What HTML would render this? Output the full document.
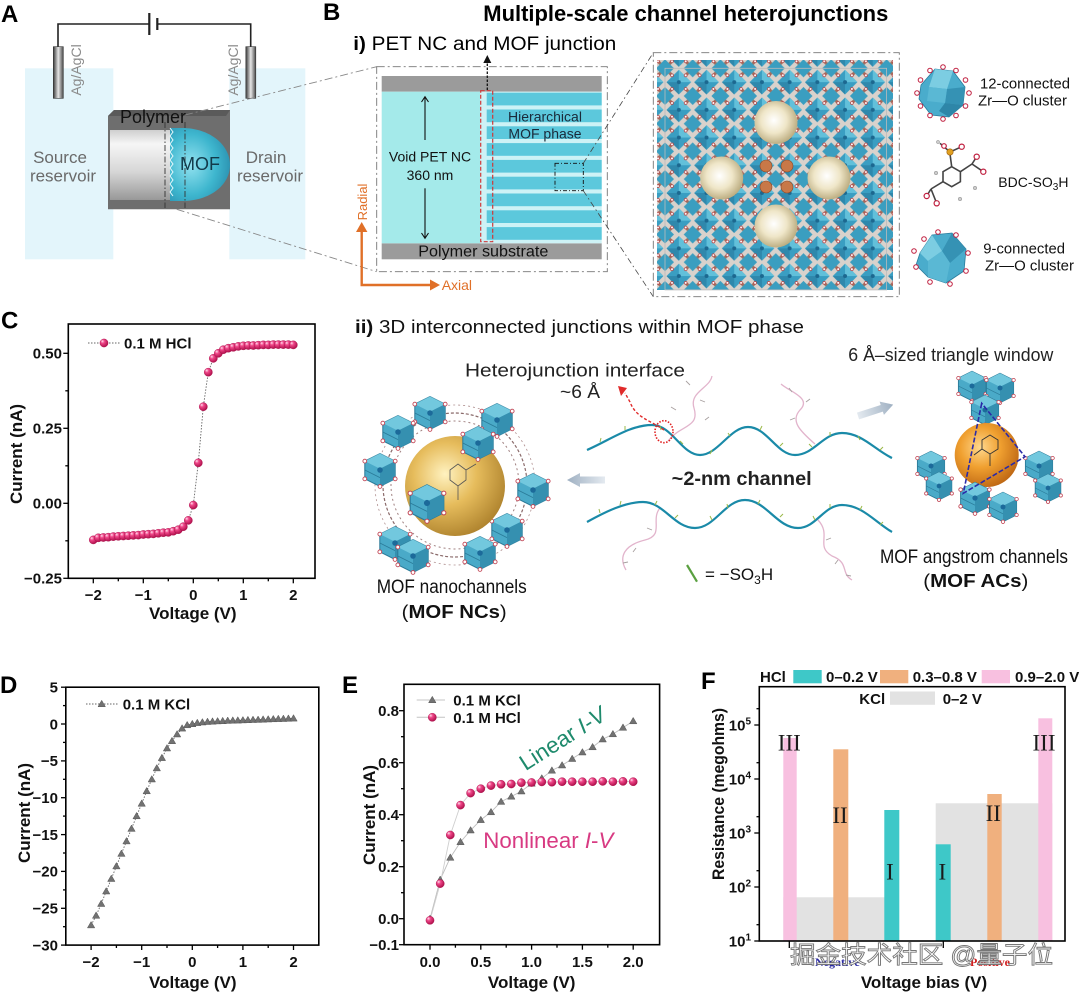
<!DOCTYPE html>
<html><head><meta charset="utf-8">
<style>
html,body{margin:0;padding:0;background:#fff;}
svg{display:block;}
text{font-family:"Liberation Sans",Arial,sans-serif;}
.b{font-weight:bold;}
.n{font-family:"Liberation Sans Narrow","Liberation Sans",sans-serif;}
.tk{font-weight:bold;font-size:15px;fill:#111;}
.ax{font-weight:bold;font-size:17px;fill:#111;}
.pl{font-weight:bold;font-size:24px;fill:#000;}
.serif{font-family:"Liberation Serif","DejaVu Serif",serif;}
.cjk{font-family:"Liberation Sans","Noto Sans CJK SC",sans-serif;}
</style></head><body>
<svg width="1080" height="995" viewBox="0 0 1080 995" xmlns="http://www.w3.org/2000/svg">
<defs>
 <radialGradient id="pinkball" cx="0.38" cy="0.35" r="0.65" fx="0.3" fy="0.28">
  <stop offset="0" stop-color="#ffe2ef"/><stop offset="0.35" stop-color="#f0488a"/><stop offset="1" stop-color="#b0104c"/>
 </radialGradient>
 <radialGradient id="gold" cx="0.4" cy="0.38" r="0.7">
  <stop offset="0" stop-color="#fff2c0"/><stop offset="0.45" stop-color="#e6bc5c"/><stop offset="1" stop-color="#a87c28"/>
 </radialGradient>
 <radialGradient id="beige" cx="0.45" cy="0.45" r="0.6">
  <stop offset="0" stop-color="#ffffff"/><stop offset="0.5" stop-color="#efe6c8"/><stop offset="1" stop-color="#b4a476"/>
 </radialGradient>
 <radialGradient id="orng" cx="0.4" cy="0.38" r="0.7">
  <stop offset="0" stop-color="#ffd88e"/><stop offset="0.45" stop-color="#f0a030"/><stop offset="1" stop-color="#b86010"/>
 </radialGradient>
 <linearGradient id="cyl" x1="0" y1="0" x2="0" y2="1">
  <stop offset="0" stop-color="#cfcfcf"/><stop offset="0.2" stop-color="#f6f6f6"/><stop offset="0.6" stop-color="#d6d6d6"/><stop offset="1" stop-color="#989898"/>
 </linearGradient>
 <radialGradient id="mofg" cx="0.35" cy="0.5" r="0.7">
  <stop offset="0" stop-color="#92e2f0"/><stop offset="0.6" stop-color="#3eb6ce"/><stop offset="1" stop-color="#2a8eae"/>
 </radialGradient>
 <linearGradient id="elec" x1="0" y1="0" x2="1" y2="0">
  <stop offset="0" stop-color="#3a3a3a"/><stop offset="0.5" stop-color="#e6e6e6"/><stop offset="1" stop-color="#484848"/>
 </linearGradient>
 <linearGradient id="garrow" x1="0" y1="0" x2="1" y2="0">
  <stop offset="0" stop-color="#9fb0c2"/><stop offset="1" stop-color="#e4eaf0"/>
 </linearGradient>
 <linearGradient id="garrow2" x1="0" y1="0" x2="1" y2="0">
  <stop offset="0" stop-color="#e4eaf0"/><stop offset="1" stop-color="#9fb0c2"/>
 </linearGradient>
 <pattern id="mofpat" x="665" y="68.3" width="27.7" height="27.7" patternUnits="userSpaceOnUse">
  <rect width="27.7" height="27.7" fill="#d9d2cc"/>
  <line x1="0" y1="0" x2="27.7" y2="27.7" stroke="#a07060" stroke-width="3"/>
  <line x1="27.7" y1="0" x2="0" y2="27.7" stroke="#a07060" stroke-width="3"/>
  <polygon points="13.85,1.5 26.2,13.85 13.85,26.2 1.5,13.85" fill="#3a9ec2"/>
  <polygon points="13.85,1.5 26.2,13.85 13.85,13.85" fill="#62c0da"/>
  <polygon points="1.5,13.85 13.85,13.85 13.85,26.2" fill="#2f88ac"/>
  <polygon points="0,0 9,0 0,9" fill="#3a9ec0"/><polygon points="27.7,0 18.7,0 27.7,9" fill="#3a9ec0"/>
  <polygon points="0,27.7 9,27.7 0,18.7" fill="#3a9ec0"/><polygon points="27.7,27.7 18.7,27.7 27.7,18.7" fill="#3a9ec0"/>
  <circle cx="13.85" cy="13.85" r="2" fill="#1c6890"/>
  <circle cx="7" cy="7" r="1.4" fill="#fff" stroke="#b84040" stroke-width="0.7"/>
  <circle cx="20.7" cy="7" r="1.4" fill="#fff" stroke="#b84040" stroke-width="0.7"/>
  <circle cx="7" cy="20.7" r="1.4" fill="#fff" stroke="#b84040" stroke-width="0.7"/>
  <circle cx="20.7" cy="20.7" r="1.4" fill="#fff" stroke="#b84040" stroke-width="0.7"/>
 </pattern>
 <symbol id="clu" viewBox="0 0 30 30">
  <polygon points="3,8 15,2 27,8 27,22 15,28 3,22" fill="#4aaac8" stroke="#2a7a98" stroke-width="0.8"/>
  <polygon points="15,2 27,8 15,14 3,8" fill="#72c8de"/>
  <polygon points="15,14 27,8 27,22 15,28" fill="#3590b0"/>
  <line x1="3" y1="15" x2="15" y2="21" stroke="#2a7a98" stroke-width="0.6"/>
  <circle cx="15" cy="15" r="2.2" fill="#1c6a9a"/>
  <circle cx="3" cy="8" r="1.5" fill="#fff" stroke="#c04050" stroke-width="0.7"/>
  <circle cx="27" cy="8" r="1.5" fill="#fff" stroke="#c04050" stroke-width="0.7"/>
  <circle cx="15" cy="28" r="1.5" fill="#fff" stroke="#c04050" stroke-width="0.7"/>
  <circle cx="3" cy="22" r="1.5" fill="#fff" stroke="#c04050" stroke-width="0.7"/>
  <circle cx="27" cy="22" r="1.5" fill="#fff" stroke="#c04050" stroke-width="0.7"/>
 </symbol>
 <circle id="ball" cx="0" cy="0" r="4.1" fill="url(#pinkball)" stroke="#a80c48" stroke-width="0.4"/>
 <path id="tri" d="M0,-3.7 L3.7,2.7 L-3.7,2.7Z" fill="#727272" stroke="#555" stroke-width="0.5"/>
</defs>

<rect width="1080" height="995" fill="#fff"/>

<!-- ================= PANEL A ================= -->
<text x="1" y="22" class="pl">A</text>
<rect x="25" y="68.3" width="88.3" height="191" fill="#e3f5fb"/>
<rect x="229.3" y="68.3" width="76" height="191" fill="#e3f5fb"/>
<polyline points="58,47 58,24 149.3,24" fill="none" stroke="#222" stroke-width="1.6"/>
<polyline points="157.3,24 250.7,24 250.7,47" fill="none" stroke="#222" stroke-width="1.6"/>
<line x1="149.3" y1="13" x2="149.3" y2="35" stroke="#222" stroke-width="2.2"/>
<line x1="157.3" y1="18" x2="157.3" y2="30" stroke="#222" stroke-width="2.2"/>
<rect x="53.3" y="46.7" width="10" height="51.6" fill="url(#elec)" stroke="#333" stroke-width="0.6"/>
<rect x="245.8" y="46.7" width="10" height="51.6" fill="url(#elec)" stroke="#333" stroke-width="0.6"/>
<text transform="translate(81,70) rotate(-90)" text-anchor="middle" font-size="14" fill="#8a8a8a">Ag/AgCl</text>
<text transform="translate(238,70) rotate(-90)" text-anchor="middle" font-size="14" fill="#8a8a8a">Ag/AgCl</text>
<text x="60" y="163" text-anchor="middle" font-size="17" fill="#6a6a6a">Source</text>
<text x="63" y="181.5" text-anchor="middle" font-size="17" fill="#6a6a6a">reservoir</text>
<text x="266" y="163" text-anchor="middle" font-size="17" fill="#6a6a6a">Drain</text>
<text x="270" y="181.5" text-anchor="middle" font-size="17" fill="#6a6a6a">reservoir</text>
<polygon points="108,116 114,110 230,110 230,209.3 108,209.3" fill="#6e6e6e"/>
<polygon points="108,116 114,110 230,110 226,116" fill="#5a5a5a"/>
<rect x="110" y="130" width="62" height="70" fill="url(#cyl)"/>
<path d="M170,128 L182,128 C210,128 230,145 230,165 C230,185 210,201 182,201 L170,201 Z" fill="url(#mofg)"/>
<path d="M170,128 l3,4 -3,4 3,4 -3,4 3,4 -3,4 3,4 -3,4 3,4 -3,4 3,4 -3,4 3,4 -3,4 3,4 -3,4 3,4" fill="none" stroke="#e8f8fb" stroke-width="1"/>
<line x1="165" y1="122" x2="165" y2="208" stroke="#333" stroke-width="0.9" stroke-dasharray="6 2 1.5 2"/>
<line x1="185" y1="122" x2="185" y2="208" stroke="#333" stroke-width="0.9" stroke-dasharray="6 2 1.5 2"/>
<text x="120" y="123" font-size="18" fill="#111">Polymer</text>
<text x="180" y="170" font-size="18" fill="#123a4a">MOF</text>
<line x1="185" y1="115" x2="376.7" y2="66.7" stroke="#888" stroke-width="0.9" stroke-dasharray="8 3 2 3"/>
<line x1="176.7" y1="209.3" x2="376.7" y2="271.7" stroke="#888" stroke-width="0.9" stroke-dasharray="8 3 2 3"/>

<!-- ================= PANEL B ================= -->
<text x="323" y="20" class="pl">B</text>
<text x="483.3" y="21" class="b" font-size="22" textLength="405" lengthAdjust="spacingAndGlyphs">Multiple-scale channel heterojunctions</text>
<text x="353.3" y="50" font-size="19" textLength="263" lengthAdjust="spacingAndGlyphs"><tspan class="b">i)</tspan> PET NC and MOF junction</text>
<rect x="376.7" y="66.7" width="230.6" height="205" fill="none" stroke="#777" stroke-width="0.9" stroke-dasharray="8 3 2 3"/>
<rect x="381.7" y="76" width="220" height="15.7" fill="#9b9b9b"/>
<rect x="381.7" y="243.3" width="220" height="16" fill="#9b9b9b"/>
<rect x="381.7" y="91.7" width="98.3" height="151.6" fill="#a4eaea"/>
<rect x="480" y="91.7" width="121.7" height="151.6" fill="#cdf2f6"/>
<g fill="#5cc8dc">
 <rect x="486.7" y="92.7" width="115" height="12.7"/>
 <rect x="486.7" y="109.5" width="115" height="12.7"/>
 <rect x="486.7" y="126.3" width="115" height="12.7"/>
 <rect x="486.7" y="143.1" width="115" height="12.7"/>
 <rect x="486.7" y="159.9" width="115" height="12.7"/>
 <rect x="486.7" y="176.7" width="115" height="12.7"/>
 <rect x="486.7" y="193.5" width="115" height="12.7"/>
 <rect x="486.7" y="210.3" width="115" height="12.7"/>
 <rect x="486.7" y="227.1" width="115" height="12.7"/>
</g>
<rect x="480.7" y="90.7" width="12" height="151" fill="none" stroke="#d03838" stroke-width="1.2" stroke-dasharray="4 2"/>
<line x1="487.3" y1="90" x2="487.3" y2="62" stroke="#111" stroke-width="1.3" stroke-dasharray="2.5 1.5"/>
<polygon points="483.3,63 491.3,63 487.3,55" fill="#111"/>
<line x1="425" y1="97.5" x2="425" y2="140" stroke="#111" stroke-width="1.1"/>
<polyline points="421.5,102 425,96.7 428.5,102" fill="none" stroke="#111" stroke-width="1.1"/>
<line x1="425" y1="188.3" x2="425" y2="237.5" stroke="#111" stroke-width="1.1"/>
<polyline points="421.5,233 425,238.3 428.5,233" fill="none" stroke="#111" stroke-width="1.1"/>
<text x="430" y="161.7" text-anchor="middle" font-size="14" fill="#111">Void PET NC</text>
<text x="430" y="180" text-anchor="middle" font-size="14" fill="#111">360 nm</text>
<text x="545" y="121.7" text-anchor="middle" font-size="14" fill="#1a2a3a">Hierarchical</text>
<text x="545" y="138.5" text-anchor="middle" font-size="14" fill="#1a2a3a">MOF phase</text>
<rect x="555" y="163.3" width="28.3" height="27.4" fill="none" stroke="#111" stroke-width="0.9" stroke-dasharray="4 2 1 2"/>
<line x1="583.3" y1="163.3" x2="653.3" y2="52.7" stroke="#444" stroke-width="0.8" stroke-dasharray="6 3 1.5 3"/>
<line x1="583.3" y1="190.7" x2="653.3" y2="296.7" stroke="#444" stroke-width="0.8" stroke-dasharray="6 3 1.5 3"/>
<text x="483.3" y="256.5" text-anchor="middle" font-size="16" fill="#111" textLength="130" lengthAdjust="spacingAndGlyphs">Polymer substrate</text>
<polyline points="361.7,230 361.7,285 432,285" fill="none" stroke="#e07028" stroke-width="2.4"/>
<polygon points="356,232 367.4,232 361.7,222" fill="#e07028"/>
<polygon points="430,279.5 430,290.5 440,285" fill="#e07028"/>
<text transform="translate(367,202) rotate(-90)" text-anchor="middle" font-size="13" fill="#e07028">Radial</text>
<text x="441.7" y="290" font-size="14" fill="#e07028">Axial</text>

<!-- big MOF lattice -->
<rect x="653.3" y="52.7" width="246" height="244" fill="none" stroke="#777" stroke-width="0.9" stroke-dasharray="8 3 2 3"/>
<rect x="657" y="60" width="236" height="230" fill="url(#mofpat)"/>
<rect x="665" y="68.3" width="221.6" height="221.6" fill="none" stroke="#bbb" stroke-width="0.8"/>
<g fill="#c87848" stroke="#8a4a2a" stroke-width="0.6">
 <circle cx="766" cy="166" r="6"/><circle cx="787" cy="166" r="6"/><circle cx="766" cy="187" r="6"/><circle cx="787" cy="187" r="6"/>
</g>
<circle cx="776" cy="122.5" r="21.5" fill="url(#beige)"/>
<circle cx="721.7" cy="178" r="21.5" fill="url(#beige)"/>
<circle cx="829" cy="178" r="21.5" fill="url(#beige)"/>
<circle cx="776" cy="226" r="21.5" fill="url(#beige)"/>

<!-- 12-connected -->
<g transform="translate(943,93)">
 <polygon points="-22,-8 -8,-24 10,-22 22,-6 20,12 6,24 -12,22 -24,6" fill="#4aaccc" stroke="#2a7c9c" stroke-width="0.8"/>
 <polygon points="-8,-24 10,-22 4,-4 -14,-6" fill="#7ccde2"/>
 <polygon points="4,-4 22,-6 20,12 2,10" fill="#3592b4"/>
 <polygon points="-14,-6 4,-4 2,10 -16,8" fill="#5ab8d4"/>
 <polygon points="2,10 20,12 6,24 -4,18" fill="#2e86a8"/>
 <g fill="#fff" stroke="#c02040" stroke-width="1">
  <circle cx="26" cy="0" r="2.3"/><circle cx="22.5" cy="13" r="2.3"/><circle cx="13" cy="22.5" r="2.3"/><circle cx="0" cy="26" r="2.3"/>
  <circle cx="-13" cy="22.5" r="2.3"/><circle cx="-22.5" cy="13" r="2.3"/><circle cx="-26" cy="0" r="2.3"/><circle cx="-22.5" cy="-13" r="2.3"/>
  <circle cx="-13" cy="-22.5" r="2.3"/><circle cx="0" cy="-26" r="2.3"/><circle cx="13" cy="-22.5" r="2.3"/><circle cx="22.5" cy="-13" r="2.3"/>
 </g>
</g>
<text x="980" y="88.5" font-size="14.5" fill="#111" textLength="90" lengthAdjust="spacingAndGlyphs">12-connected</text>
<text x="978" y="105.5" font-size="14.5" fill="#111" textLength="89" lengthAdjust="spacingAndGlyphs">Zr—O cluster</text>
<!-- BDC-SO3H -->
<g stroke="#444" stroke-width="1.6" fill="none">
 <polygon points="951.7,166.7 960.4,171.7 960.4,181.7 951.7,186.7 943,181.7 943,171.7"/>
 <line x1="951.7" y1="166.7" x2="950" y2="154"/>
 <line x1="960.4" y1="171.7" x2="972" y2="164"/>
 <line x1="972" y1="164" x2="976.7" y2="156.7"/><line x1="972" y1="164" x2="983.3" y2="171.7"/>
 <line x1="943" y1="181.7" x2="931" y2="189"/>
 <line x1="931" y1="189" x2="926.7" y2="196"/><line x1="931" y1="189" x2="936.7" y2="203.3"/>
 <line x1="950" y1="152" x2="961.7" y2="146.7"/><line x1="950" y1="152" x2="940" y2="143.3"/>
</g>
<g stroke="#c02040" stroke-width="1.2" fill="#fff">
 <circle cx="976.7" cy="156.7" r="2.6"/><circle cx="983.3" cy="171.7" r="2.6"/><circle cx="926.7" cy="196" r="2.6"/><circle cx="936.7" cy="203.3" r="2.6"/><circle cx="961.7" cy="146.7" r="2.6"/><circle cx="944" cy="146" r="2.3"/>
</g>
<circle cx="950" cy="152" r="3.2" fill="#e0a020" stroke="#a06010" stroke-width="0.6"/>
<g fill="#ccc" stroke="#888" stroke-width="0.5"><circle cx="975" cy="188" r="1.8"/><circle cx="960" cy="199" r="1.8"/><circle cx="936" cy="173" r="1.8"/><circle cx="938" cy="142" r="1.6"/></g>
<text x="998.3" y="187" font-size="14" fill="#111">BDC-SO<tspan font-size="10" dy="3">3</tspan><tspan dy="-3">H</tspan></text>
<!-- 9-connected -->
<g transform="translate(942,257)">
 <polygon points="-22,-4 -10,-22 10,-24 24,-8 22,14 4,26 -14,20 -26,8" fill="#4aaccc" stroke="#2a7c9c" stroke-width="0.8"/>
 <polygon points="-22,-4 -10,-22 0,-6 -14,4" fill="#7ccde2"/>
 <polygon points="0,-6 10,-24 24,-8 8,6" fill="#3592b4"/>
 <polygon points="-14,4 0,-6 8,6 4,26 -14,20" fill="#5ab8d4"/>
 <g fill="#fff" stroke="#c02040" stroke-width="1">
  <circle cx="-18" cy="-18" r="2.3"/><circle cx="-4" cy="-25" r="2.3"/><circle cx="14" cy="-22" r="2.3"/><circle cx="26" cy="-4" r="2.3"/>
  <circle cx="24" cy="14" r="2.3"/><circle cx="8" cy="27" r="2.3"/><circle cx="-12" cy="25" r="2.3"/><circle cx="-26" cy="10" r="2.3"/><circle cx="-28" cy="-6" r="2.3"/>
 </g>
</g>
<text x="983.3" y="253.5" font-size="14.5" fill="#111" textLength="81.7" lengthAdjust="spacingAndGlyphs">9-connected</text>
<text x="985" y="270.5" font-size="14.5" fill="#111" textLength="89" lengthAdjust="spacingAndGlyphs">Zr—O cluster</text>

<!-- ================= PANEL ii ================= -->
<text x="355" y="333" class="n" font-size="18" fill="#111" textLength="449" lengthAdjust="spacingAndGlyphs"><tspan font-weight="bold">ii)</tspan>  3D interconnected junctions within MOF phase</text>
<text x="465" y="376.5" class="n" font-size="18.5" fill="#222" textLength="220" lengthAdjust="spacingAndGlyphs">Heterojunction interface</text>
<text x="560" y="398" class="n" font-size="18" fill="#222" textLength="40" lengthAdjust="spacingAndGlyphs">~6 Å</text>
<text x="848.3" y="361" class="n" font-size="18.5" fill="#222" textLength="205" lengthAdjust="spacingAndGlyphs">6 Å–sized triangle window</text>

<!-- MOF NC -->
<circle cx="455" cy="485" r="72" fill="none" stroke="#8a6a6a" stroke-width="1.2" stroke-dasharray="3 2"/>
<circle cx="455" cy="485" r="64" fill="none" stroke="#a08080" stroke-width="1" stroke-dasharray="2 3"/>
<circle cx="455" cy="485" r="80" fill="none" stroke="#b09090" stroke-width="0.8" stroke-dasharray="2 3"/>
<use href="#clu" x="411" y="394" width="38" height="38"/>
<use href="#clu" x="379" y="413" width="38" height="38"/>
<use href="#clu" x="361" y="451" width="38" height="38"/>
<use href="#clu" x="376" y="524" width="38" height="38"/>
<use href="#clu" x="514" y="471" width="38" height="38"/>
<use href="#clu" x="488" y="511" width="38" height="38"/>
<use href="#clu" x="461" y="534" width="38" height="38"/>
<use href="#clu" x="394" y="537" width="38" height="38"/>
<use href="#clu" x="478" y="401" width="38" height="38"/>
<circle cx="455" cy="486" r="50" fill="url(#gold)"/>
<path d="M450,470 l8,-6 8,6 0,10 -8,6 -8,-6z M458,486 l0,14 M466,470 l10,-6" fill="none" stroke="#555" stroke-width="0.8"/>
<use href="#clu" x="406" y="482" width="42" height="42"/>
<use href="#clu" x="459" y="424" width="38" height="38"/>
<text x="376.7" y="593" class="n" font-size="19" fill="#111" textLength="150" lengthAdjust="spacingAndGlyphs">MOF nanochannels</text>
<text x="401.7" y="618" font-size="18" fill="#111" textLength="105" lengthAdjust="spacingAndGlyphs">(<tspan font-weight="bold">MOF NCs</tspan>)</text>

<!-- gray arrows -->
<polygon points="567,480 580,473 580,476.5 605,476.5 605,483.5 580,483.5 580,487" fill="url(#garrow)"/>
<g transform="translate(858,416) rotate(-18)">
 <polygon points="0,-3.5 25,-3.5 25,-7 37,0 25,7 25,3.5 0,3.5" fill="url(#garrow2)"/>
</g>

<!-- pink chains -->
<g fill="none" stroke="#e2b4cc" stroke-width="1.3">
 <path d="M668,441 C680,425 700,428 694,408 C689,392 710,388 712,376"/>
 <path d="M815,444 C800,431 790,421 800,410 C812,398 790,392 781,384"/>
 <path d="M660,508 C650,520 665,535 645,540 C625,545 618,556 626,570"/>
 <path d="M818,520 C832,535 815,546 832,556 C850,563 840,573 852,580"/>
</g>
<g fill="none" stroke="#a8a0a0" stroke-width="0.9">
 <path d="M676,410 l-5,-3 M700,400 l5,2 M690,385 l-4,-4 M795,418 l-5,2 M806,402 l4,-3 M792,392 l-3,-4 M652,530 l-5,-2 M636,548 l-3,4 M628,562 l-5,1 M826,540 l5,-2 M838,560 l-3,4 M846,575 l5,1 M705,420 l4,-3"/>
</g>
<!-- waves -->
<path d="M587,450 C610,440 630,425 652,425 C672,425 682,455 700,455 C718,455 730,427 748,427 C767,427 777,455 795,455 C814,455 823,433 842,433 C862,433 875,450 892,458" fill="none" stroke="#1a8aa8" stroke-width="2.2"/>
<path d="M587,522 C605,512 625,502 643,502 C664,502 674,528 695,528 C715,528 725,500 745,500 C766,500 777,528 798,528 C816,528 824,505 842,505 C862,505 875,522 892,532" fill="none" stroke="#1a8aa8" stroke-width="2.2"/>
<g stroke="#9ab848" stroke-width="1">
 <path d="M600,442 l1,-4 M625,430 l0,-4 M660,426 l1,4 M680,441 l3,3 M712,450 l-2,4 M730,436 l-2,-3 M760,430 l2,-4 M780,446 l3,-3 M812,447 l-3,-3 M830,436 l0,-4 M858,436 l2,4 M880,450 l3,-3"/>
 <path d="M600,513 l-1,-4 M620,505 l1,-4 M655,505 l2,-4 M675,518 l3,-3 M712,520 l-2,-4 M728,508 l-1,-4 M758,504 l2,-4 M780,517 l3,-3 M815,520 l-2,-4 M830,508 l0,-4 M860,510 l2,-4 M880,525 l3,-3"/>
</g>
<!-- red dashed arrow and dotted ellipse -->
<path d="M664,430 C650,420 636,418 630,402 L625,393" fill="none" stroke="#e02a2a" stroke-width="1.4" stroke-dasharray="3 2"/>
<polygon points="618,386 627,388 621,396" fill="#e02a2a"/>
<ellipse cx="664" cy="431.7" rx="9" ry="11" fill="none" stroke="#e02020" stroke-width="1.6" stroke-dasharray="1.5 1.5"/>
<text x="671.7" y="485" class="b" font-size="19" fill="#222" textLength="140" lengthAdjust="spacingAndGlyphs">~2-nm channel</text>
<line x1="687" y1="565" x2="697" y2="581.7" stroke="#5aa040" stroke-width="2.2"/>
<text x="705" y="580" font-size="17" fill="#111">= <tspan>−SO</tspan><tspan font-size="12" dy="4">3</tspan><tspan dy="-4">H</tspan></text>

<!-- MOF AC -->
<use href="#clu" x="955" y="369" width="34" height="34"/>
<use href="#clu" x="983" y="371" width="34" height="34"/>
<use href="#clu" x="968" y="393" width="34" height="34"/>
<use href="#clu" x="914" y="449" width="34" height="34"/>
<use href="#clu" x="923" y="470" width="32" height="32"/>
<use href="#clu" x="1022" y="449" width="34" height="34"/>
<use href="#clu" x="1032" y="472" width="32" height="32"/>
<circle cx="986.7" cy="455" r="32" fill="url(#orng)"/>
<path d="M982,440 l8,-5 8,5 0,9 -8,5 -8,-5z M990,454 l0,12 M982,449 l-8,6" fill="none" stroke="#333" stroke-width="0.9"/>
<use href="#clu" x="957" y="480" width="36" height="36"/>
<use href="#clu" x="986" y="490" width="34" height="34"/>
<polygon points="981.7,403.3 963.3,493.3 1025,456.7" fill="none" stroke="#2a2aa8" stroke-width="1.6" stroke-dasharray="5 2"/>
<text x="880" y="563" class="n" font-size="19" fill="#111" textLength="188" lengthAdjust="spacingAndGlyphs">MOF angstrom channels</text>
<text x="923.3" y="587" font-size="18" fill="#111" textLength="105" lengthAdjust="spacingAndGlyphs">(<tspan font-weight="bold">MOF ACs</tspan>)</text>

<!-- ================= PANEL C ================= -->
<text x="1" y="328.5" class="pl" font-size="22">C</text>
<g stroke="#000" stroke-width="1.3">
 <line x1="63.3" y1="353.3" x2="68.3" y2="353.3"/><line x1="63.3" y1="428.3" x2="68.3" y2="428.3"/><line x1="63.3" y1="503.3" x2="68.3" y2="503.3"/><line x1="63.3" y1="578.3" x2="68.3" y2="578.3"/>
 <line x1="65.3" y1="390.8" x2="68.3" y2="390.8"/><line x1="65.3" y1="465.8" x2="68.3" y2="465.8"/><line x1="65.3" y1="540.8" x2="68.3" y2="540.8"/>
 <line x1="93.3" y1="578.3" x2="93.3" y2="583.3"/><line x1="143.3" y1="578.3" x2="143.3" y2="583.3"/><line x1="193.3" y1="578.3" x2="193.3" y2="583.3"/><line x1="243.3" y1="578.3" x2="243.3" y2="583.3"/><line x1="293.3" y1="578.3" x2="293.3" y2="583.3"/>
 <line x1="118.3" y1="578.3" x2="118.3" y2="581.3"/><line x1="168.3" y1="578.3" x2="168.3" y2="581.3"/><line x1="218.3" y1="578.3" x2="218.3" y2="581.3"/><line x1="268.3" y1="578.3" x2="268.3" y2="581.3"/>
</g>
<rect x="68.3" y="324" width="246.7" height="254.3" fill="none" stroke="#000" stroke-width="1.6"/>
<g class="tk" text-anchor="end">
 <text x="62" y="358.5">0.50</text><text x="62" y="433.5">0.25</text><text x="62" y="508.5">0.00</text><text x="62" y="583.5">−0.25</text>
</g>
<g class="tk" text-anchor="middle">
 <text x="93.3" y="600">−2</text><text x="143.3" y="600">−1</text><text x="193.3" y="600">0</text><text x="243.3" y="600">1</text><text x="293.3" y="600">2</text>
</g>
<text x="192.8" y="619" text-anchor="middle" class="ax">Voltage (V)</text>
<text transform="translate(22,454) rotate(-90)" text-anchor="middle" class="ax" font-size="16.5">Current (nA)</text>
<line x1="88" y1="343" x2="120" y2="343" stroke="#666" stroke-width="0.9" stroke-dasharray="1.5 1.5"/>
<use href="#ball" x="104" y="343"/>
<text x="124" y="348.5" class="tk">0.1 M HCl</text>
<polyline points="93.3,539.9 98.3,537.8 103.3,537.5 108.3,537.2 113.3,536.6 118.3,536.3 123.3,536.0 128.3,535.7 133.3,535.4 138.3,535.1 143.3,534.5 148.3,534.2 153.3,533.9 158.3,533.3 163.3,532.7 168.3,532.4 173.3,531.2 178.3,529.7 183.3,526.7 188.3,520.4 193.3,505.1 198.3,462.8 203.3,406.7 208.3,372.2 213.3,358.4 218.3,353.3 223.3,349.7 228.3,348.2 233.3,347.3 238.3,346.4 243.3,345.8 248.3,345.5 253.3,345.5 258.3,345.2 263.3,344.9 268.3,344.9 273.3,344.6 278.3,344.6 283.3,344.6 288.3,344.6 293.3,344.9" fill="none" stroke="#666" stroke-width="0.9" stroke-dasharray="1.5 1.5"/>
<g>
<use href="#ball" x="93.3" y="539.9"/><use href="#ball" x="98.3" y="537.8"/><use href="#ball" x="103.3" y="537.5"/><use href="#ball" x="108.3" y="537.2"/><use href="#ball" x="113.3" y="536.6"/><use href="#ball" x="118.3" y="536.3"/><use href="#ball" x="123.3" y="536.0"/><use href="#ball" x="128.3" y="535.7"/><use href="#ball" x="133.3" y="535.4"/><use href="#ball" x="138.3" y="535.1"/><use href="#ball" x="143.3" y="534.5"/><use href="#ball" x="148.3" y="534.2"/><use href="#ball" x="153.3" y="533.9"/><use href="#ball" x="158.3" y="533.3"/><use href="#ball" x="163.3" y="532.7"/><use href="#ball" x="168.3" y="532.4"/><use href="#ball" x="173.3" y="531.2"/><use href="#ball" x="178.3" y="529.7"/><use href="#ball" x="183.3" y="526.7"/><use href="#ball" x="188.3" y="520.4"/><use href="#ball" x="193.3" y="505.1"/><use href="#ball" x="198.3" y="462.8"/><use href="#ball" x="203.3" y="406.7"/><use href="#ball" x="208.3" y="372.2"/><use href="#ball" x="213.3" y="358.4"/><use href="#ball" x="218.3" y="353.3"/><use href="#ball" x="223.3" y="349.7"/><use href="#ball" x="228.3" y="348.2"/><use href="#ball" x="233.3" y="347.3"/><use href="#ball" x="238.3" y="346.4"/><use href="#ball" x="243.3" y="345.8"/><use href="#ball" x="248.3" y="345.5"/><use href="#ball" x="253.3" y="345.5"/><use href="#ball" x="258.3" y="345.2"/><use href="#ball" x="263.3" y="344.9"/><use href="#ball" x="268.3" y="344.9"/><use href="#ball" x="273.3" y="344.6"/><use href="#ball" x="278.3" y="344.6"/><use href="#ball" x="283.3" y="344.6"/><use href="#ball" x="288.3" y="344.6"/><use href="#ball" x="293.3" y="344.9"/>
</g>

<!-- ================= PANEL D ================= -->
<text x="0" y="693" class="pl">D</text>
<g stroke="#000" stroke-width="1.3">
 <line x1="61" y1="687.2" x2="65.8" y2="687.2"/><line x1="61" y1="724" x2="65.8" y2="724"/><line x1="61" y1="760.9" x2="65.8" y2="760.9"/><line x1="61" y1="797.7" x2="65.8" y2="797.7"/><line x1="61" y1="834.6" x2="65.8" y2="834.6"/><line x1="61" y1="871.4" x2="65.8" y2="871.4"/><line x1="61" y1="908.3" x2="65.8" y2="908.3"/><line x1="61" y1="945.1" x2="65.8" y2="945.1"/>
 <line x1="63" y1="705.6" x2="65.8" y2="705.6"/><line x1="63" y1="742.4" x2="65.8" y2="742.4"/><line x1="63" y1="779.3" x2="65.8" y2="779.3"/><line x1="63" y1="816.1" x2="65.8" y2="816.1"/><line x1="63" y1="853" x2="65.8" y2="853"/><line x1="63" y1="889.9" x2="65.8" y2="889.9"/><line x1="63" y1="926.7" x2="65.8" y2="926.7"/>
 <line x1="91.1" y1="945.1" x2="91.1" y2="950"/><line x1="141.7" y1="945.1" x2="141.7" y2="950"/><line x1="192.3" y1="945.1" x2="192.3" y2="950"/><line x1="242.9" y1="945.1" x2="242.9" y2="950"/><line x1="293.5" y1="945.1" x2="293.5" y2="950"/>
 <line x1="116.4" y1="945.1" x2="116.4" y2="948"/><line x1="167" y1="945.1" x2="167" y2="948"/><line x1="217.6" y1="945.1" x2="217.6" y2="948"/><line x1="268.2" y1="945.1" x2="268.2" y2="948"/>
</g>
<rect x="65.8" y="687.2" width="253" height="257.9" fill="none" stroke="#000" stroke-width="1.6"/>
<g class="tk" text-anchor="end">
 <text x="58" y="692.5">5</text><text x="58" y="729.3">0</text><text x="58" y="766.2">−5</text><text x="58" y="803">−10</text><text x="58" y="839.9">−15</text><text x="58" y="876.7">−20</text><text x="58" y="913.6">−25</text><text x="58" y="950.4">−30</text>
</g>
<g class="tk" text-anchor="middle">
 <text x="91.1" y="967">−2</text><text x="141.7" y="967">−1</text><text x="192.3" y="967">0</text><text x="242.9" y="967">1</text><text x="293.5" y="967">2</text>
</g>
<text x="192.8" y="988" text-anchor="middle" class="ax">Voltage (V)</text>
<text transform="translate(30,813) rotate(-90)" text-anchor="middle" class="ax" font-size="16.5">Current (nA)</text>
<line x1="86" y1="704" x2="118" y2="704" stroke="#666" stroke-width="0.9" stroke-dasharray="1.5 1.5"/>
<use href="#tri" x="101.7" y="704"/>
<text x="122.7" y="709.5" class="tk">0.1 M KCl</text>
<polyline points="91.1,925.2 96.1,915.6 101.2,903.8 106.2,891.3 111.3,878.8 116.4,866.2 121.4,853.7 126.5,841.2 131.5,828.7 136.6,816.1 141.7,803.6 146.7,791.1 151.8,779.3 156.8,768.2 161.9,757.9 167.0,748.3 172.0,741.0 177.1,734.3 182.1,728.4 187.2,725.1 192.3,724.0 197.3,722.9 202.4,722.3 207.5,721.8 212.5,721.5 217.6,721.2 222.7,721.0 227.7,720.7 232.8,720.5 237.8,720.4 242.9,720.2 247.9,720.0 253.0,719.8 258.1,719.7 263.1,719.5 268.2,719.3 273.3,719.1 278.3,718.9 283.4,718.8 288.4,718.6 293.5,718.4" fill="none" stroke="#666" stroke-width="0.9" stroke-dasharray="1.5 1.5"/>
<g>
<use href="#tri" x="91.1" y="925.2"/><use href="#tri" x="96.1" y="915.6"/><use href="#tri" x="101.2" y="903.8"/><use href="#tri" x="106.2" y="891.3"/><use href="#tri" x="111.3" y="878.8"/><use href="#tri" x="116.4" y="866.2"/><use href="#tri" x="121.4" y="853.7"/><use href="#tri" x="126.5" y="841.2"/><use href="#tri" x="131.5" y="828.7"/><use href="#tri" x="136.6" y="816.1"/><use href="#tri" x="141.7" y="803.6"/><use href="#tri" x="146.7" y="791.1"/><use href="#tri" x="151.8" y="779.3"/><use href="#tri" x="156.8" y="768.2"/><use href="#tri" x="161.9" y="757.9"/><use href="#tri" x="167.0" y="748.3"/><use href="#tri" x="172.0" y="741.0"/><use href="#tri" x="177.1" y="734.3"/><use href="#tri" x="182.1" y="728.4"/><use href="#tri" x="187.2" y="725.1"/><use href="#tri" x="192.3" y="724.0"/><use href="#tri" x="197.3" y="722.9"/><use href="#tri" x="202.4" y="722.3"/><use href="#tri" x="207.5" y="721.8"/><use href="#tri" x="212.5" y="721.5"/><use href="#tri" x="217.6" y="721.2"/><use href="#tri" x="222.7" y="721.0"/><use href="#tri" x="227.7" y="720.7"/><use href="#tri" x="232.8" y="720.5"/><use href="#tri" x="237.8" y="720.4"/><use href="#tri" x="242.9" y="720.2"/><use href="#tri" x="247.9" y="720.0"/><use href="#tri" x="253.0" y="719.8"/><use href="#tri" x="258.1" y="719.7"/><use href="#tri" x="263.1" y="719.5"/><use href="#tri" x="268.2" y="719.3"/><use href="#tri" x="273.3" y="719.1"/><use href="#tri" x="278.3" y="718.9"/><use href="#tri" x="283.4" y="718.8"/><use href="#tri" x="288.4" y="718.6"/><use href="#tri" x="293.5" y="718.4"/>
</g>

<!-- ================= PANEL E ================= -->
<text x="342" y="693" class="pl">E</text>
<g stroke="#000" stroke-width="1.3">
 <line x1="399" y1="710.7" x2="404" y2="710.7"/><line x1="399" y1="762.7" x2="404" y2="762.7"/><line x1="399" y1="814.7" x2="404" y2="814.7"/><line x1="399" y1="866.7" x2="404" y2="866.7"/><line x1="399" y1="918.7" x2="404" y2="918.7"/><line x1="399" y1="944.7" x2="404" y2="944.7"/>
 <line x1="401" y1="736.7" x2="404" y2="736.7"/><line x1="401" y1="788.7" x2="404" y2="788.7"/><line x1="401" y1="840.7" x2="404" y2="840.7"/><line x1="401" y1="892.7" x2="404" y2="892.7"/>
 <line x1="430" y1="944.7" x2="430" y2="949.7"/><line x1="480.8" y1="944.7" x2="480.8" y2="949.7"/><line x1="531.6" y1="944.7" x2="531.6" y2="949.7"/><line x1="582.4" y1="944.7" x2="582.4" y2="949.7"/><line x1="633.2" y1="944.7" x2="633.2" y2="949.7"/>
 <line x1="455.4" y1="944.7" x2="455.4" y2="947.7"/><line x1="506.2" y1="944.7" x2="506.2" y2="947.7"/><line x1="557" y1="944.7" x2="557" y2="947.7"/><line x1="607.8" y1="944.7" x2="607.8" y2="947.7"/>
</g>
<rect x="404" y="684.3" width="255.6" height="260.4" fill="none" stroke="#000" stroke-width="1.6"/>
<g class="tk" text-anchor="end">
 <text x="399" y="716">0.8</text><text x="399" y="768">0.6</text><text x="399" y="820">0.4</text><text x="399" y="872">0.2</text><text x="399" y="924">0.0</text><text x="399" y="950">−0.1</text>
</g>
<g class="tk" text-anchor="middle">
 <text x="430" y="967">0.0</text><text x="480.8" y="967">0.5</text><text x="531.6" y="967">1.0</text><text x="582.4" y="967">1.5</text><text x="633.2" y="967">2.0</text>
</g>
<text x="531.7" y="988" text-anchor="middle" class="ax">Voltage (V)</text>
<text transform="translate(375,815) rotate(-90)" text-anchor="middle" class="ax" font-size="16.5">Current (nA)</text>
<line x1="416.7" y1="700" x2="445" y2="700" stroke="#c4c4c4" stroke-width="1"/>
<use href="#tri" x="432.3" y="700"/>
<text x="453.3" y="705.5" class="tk">0.1 M KCl</text>
<line x1="416.7" y1="717.3" x2="445" y2="717.3" stroke="#c4c4c4" stroke-width="1"/>
<use href="#ball" x="432.3" y="717.3"/>
<text x="453.3" y="722.8" class="tk">0.1 M HCl</text>
<text transform="translate(566.7,745) rotate(-32.6)" text-anchor="middle" font-size="22.5" fill="#1e8a6c">Linear <tspan font-style="italic">I</tspan>-<tspan font-style="italic">V</tspan></text>
<text x="483.3" y="848" font-size="22.3" fill="#d83a82" textLength="130" lengthAdjust="spacingAndGlyphs">Nonlinear <tspan font-style="italic">I</tspan>-<tspan font-style="italic">V</tspan></text>
<polyline points="430,918.7 440.2,879.7 450.3,857.6 460.5,842.0 470.6,830.3 480.8,819.9 491.0,812.1 501.1,801.7 511.3,796.5 521.4,791.3 531.6,783.5 541.8,778.3 551.9,770.5 562.1,765.3 572.2,758.8 582.4,752.3 592.6,747.1 602.7,739.3 612.9,734.1 623.0,727.6 633.2,721.1" fill="none" stroke="#bdbdbd" stroke-width="0.9"/>
<polyline points="430,920.3 440.2,883.6 450.3,835.0 460.5,805.1 470.6,793.1 480.8,788.7 491.0,785.6 501.1,784.3 511.3,784.0 521.4,782.7 531.6,782.5 541.8,781.9 551.9,782.2 562.1,781.7 572.2,781.7 582.4,781.7 592.6,781.7 602.7,781.4 612.9,781.7 623.0,781.4 633.2,781.7" fill="none" stroke="#cfcfcf" stroke-width="0.9"/>
<g>
<use href="#tri" x="430" y="918.7"/><use href="#tri" x="440.2" y="879.7"/><use href="#tri" x="450.3" y="857.6"/><use href="#tri" x="460.5" y="842.0"/><use href="#tri" x="470.6" y="830.3"/><use href="#tri" x="480.8" y="819.9"/><use href="#tri" x="491.0" y="812.1"/><use href="#tri" x="501.1" y="801.7"/><use href="#tri" x="511.3" y="796.5"/><use href="#tri" x="521.4" y="791.3"/><use href="#tri" x="531.6" y="783.5"/><use href="#tri" x="541.8" y="778.3"/><use href="#tri" x="551.9" y="770.5"/><use href="#tri" x="562.1" y="765.3"/><use href="#tri" x="572.2" y="758.8"/><use href="#tri" x="582.4" y="752.3"/><use href="#tri" x="592.6" y="747.1"/><use href="#tri" x="602.7" y="739.3"/><use href="#tri" x="612.9" y="734.1"/><use href="#tri" x="623.0" y="727.6"/><use href="#tri" x="633.2" y="721.1"/>
</g>
<g>
<use href="#ball" x="430" y="920.3"/><use href="#ball" x="440.2" y="883.6"/><use href="#ball" x="450.3" y="835.0"/><use href="#ball" x="460.5" y="805.1"/><use href="#ball" x="470.6" y="793.1"/><use href="#ball" x="480.8" y="788.7"/><use href="#ball" x="491.0" y="785.6"/><use href="#ball" x="501.1" y="784.3"/><use href="#ball" x="511.3" y="784.0"/><use href="#ball" x="521.4" y="782.7"/><use href="#ball" x="531.6" y="782.5"/><use href="#ball" x="541.8" y="781.9"/><use href="#ball" x="551.9" y="782.2"/><use href="#ball" x="562.1" y="781.7"/><use href="#ball" x="572.2" y="781.7"/><use href="#ball" x="582.4" y="781.7"/><use href="#ball" x="592.6" y="781.7"/><use href="#ball" x="602.7" y="781.4"/><use href="#ball" x="612.9" y="781.7"/><use href="#ball" x="623.0" y="781.4"/><use href="#ball" x="633.2" y="781.7"/>
</g>

<!-- ================= PANEL F ================= -->
<text x="701" y="689" class="pl" font-size="22">F</text>
<text x="760" y="682" class="tk">HCl</text>
<rect x="793.3" y="670" width="28.4" height="13.3" fill="#3ec8c8"/>
<text x="826" y="682" class="tk" font-size="14.5">0–0.2 V</text>
<rect x="880" y="670" width="28.3" height="13.3" fill="#f0b07e"/>
<text x="912.7" y="682" class="tk" font-size="14.5">0.3–0.8 V</text>
<rect x="981.7" y="670" width="28.3" height="13.3" fill="#f8c0e0"/>
<text x="1015" y="682" class="tk" font-size="14.5">0.9–2.0 V</text>
<text x="859.3" y="704" class="tk">KCl</text>
<rect x="890" y="691.5" width="45" height="13.3" fill="#e2e2e2"/>
<text x="942.7" y="704" class="tk" font-size="14.5">0–2 V</text>
<!-- bars -->
<rect x="783.3" y="897.3" width="114" height="43.7" fill="#e2e2e2"/>
<rect x="935.7" y="803.3" width="116.6" height="137.7" fill="#e2e2e2"/>
<rect x="783.3" y="738" width="13.4" height="203" fill="#f8c0e0"/>
<rect x="833.3" y="749.3" width="15" height="191.7" fill="#f0b07e"/>
<rect x="884.3" y="810" width="15" height="131" fill="#3ec8c8"/>
<rect x="935.7" y="844.3" width="15" height="96.7" fill="#3ec8c8"/>
<rect x="987.3" y="794" width="14.4" height="147" fill="#f0b07e"/>
<rect x="1038.3" y="718.3" width="14" height="222.7" fill="#f8c0e0"/>
<g class="serif" font-size="23" fill="#1a1a1a" text-anchor="middle">
 <text class="serif" x="789.3" y="750.5">III</text>
 <text class="serif" x="840" y="823">II</text>
 <text class="serif" x="890" y="879.5">I</text>
 <text class="serif" x="942.3" y="879.5">I</text>
 <text class="serif" x="993.3" y="821">II</text>
 <text class="serif" x="1044" y="750.5">III</text>
</g>
<g stroke="#000" stroke-width="1.3">
 <line x1="754.3" y1="725" x2="759.3" y2="725"/><line x1="754.3" y1="779" x2="759.3" y2="779"/><line x1="754.3" y1="833" x2="759.3" y2="833"/><line x1="754.3" y1="887" x2="759.3" y2="887"/><line x1="754.3" y1="941" x2="759.3" y2="941"/>
 <line x1="756.5" y1="708.7" x2="759.3" y2="708.7"/><line x1="756.5" y1="762.7" x2="759.3" y2="762.7"/><line x1="756.5" y1="816.7" x2="759.3" y2="816.7"/><line x1="756.5" y1="870.7" x2="759.3" y2="870.7"/><line x1="756.5" y1="924.7" x2="759.3" y2="924.7"/>
 <line x1="789.3" y1="941" x2="789.3" y2="948"/><line x1="943.3" y1="941" x2="943.3" y2="948"/>
</g>
<rect x="759.3" y="686.7" width="305.7" height="254.3" fill="none" stroke="#000" stroke-width="1.6"/>
<g class="tk" text-anchor="end">
 <text x="751" y="730.5">10<tspan font-size="10" dy="-6">5</tspan></text>
 <text x="751" y="784.5">10<tspan font-size="10" dy="-6">4</tspan></text>
 <text x="751" y="838.5">10<tspan font-size="10" dy="-6">3</tspan></text>
 <text x="751" y="892.5">10<tspan font-size="10" dy="-6">2</tspan></text>
 <text x="751" y="946.5">10<tspan font-size="10" dy="-6">1</tspan></text>
</g>
<text transform="translate(724,794) rotate(-90)" text-anchor="middle" class="ax" font-size="16" textLength="172" lengthAdjust="spacingAndGlyphs">Resistance (megohms)</text>
<text class="serif" x="815" y="966" font-weight="bold" font-size="12" fill="#2a2aa0">Negative</text>
<text class="serif" x="970" y="966" font-weight="bold" font-size="12" fill="#d02020">Positive</text>
<text class="cjk" x="790" y="963" font-size="24" fill="#fff" stroke="#777" stroke-width="0.9" textLength="263" lengthAdjust="spacingAndGlyphs">掘金技术社区 @量子位</text>
<text x="924" y="988" text-anchor="middle" class="ax">Voltage bias (V)</text>
</svg>
</body></html>
